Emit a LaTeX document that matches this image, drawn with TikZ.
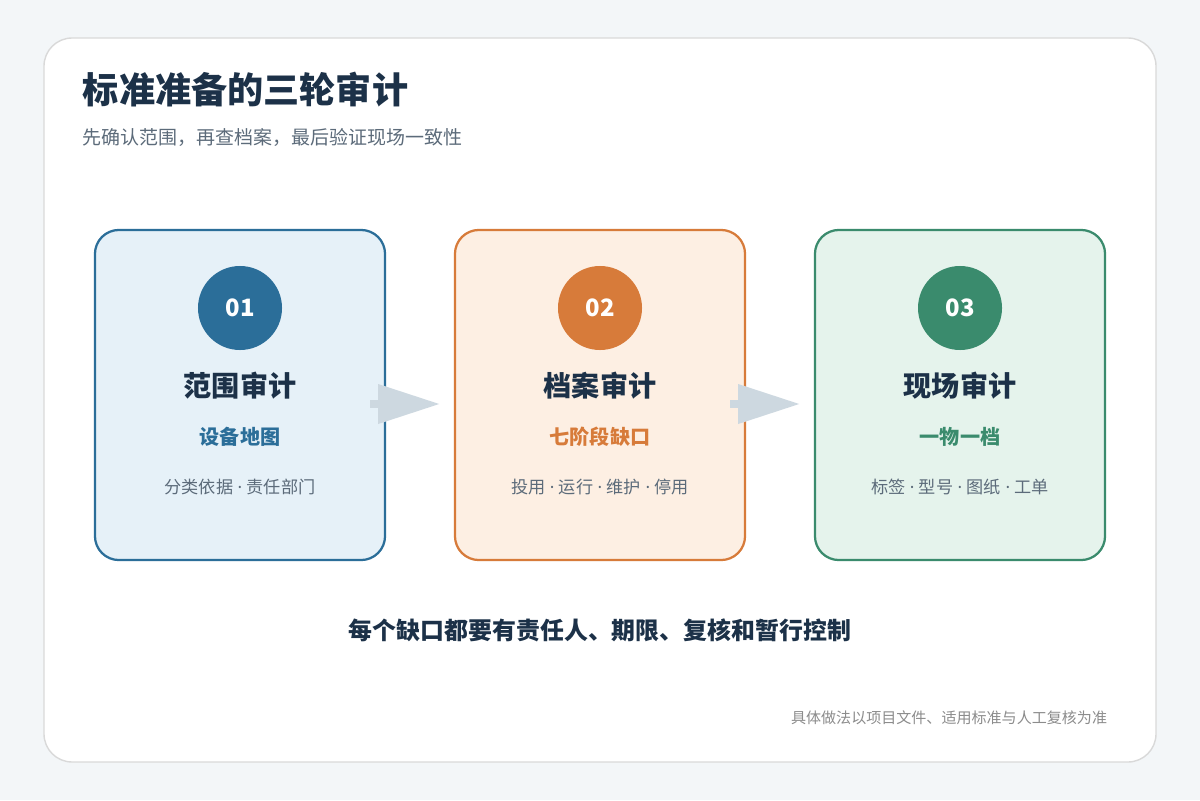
\documentclass[tikz,border=0pt]{standalone}
\usepackage{fontspec}
\setmainfont{Noto Sans CJK SC}
\newfontfamily\dotfont{Noto Sans}
\newcommand{\sep}{{\dotfont\ ·\ }}
\usetikzlibrary{positioning}
\definecolor{bgpage}{HTML}{F3F6F8}
\definecolor{ink}{HTML}{1C3148}
\definecolor{muted}{HTML}{5C6B7A}
\definecolor{blueL}{HTML}{2B6E99}\definecolor{blueF}{HTML}{E6F1F8}
\definecolor{orangeL}{HTML}{D77B3A}\definecolor{orangeF}{HTML}{FDEFE3}
\definecolor{greenL}{HTML}{3A8B6D}\definecolor{greenF}{HTML}{E5F3EC}
\definecolor{arrowc}{HTML}{CDD8E0}
\tikzset{
  stage/.style={draw=#1L,fill=#1F,line width=1.6pt,rounded corners=17pt,minimum width=7.25cm,minimum height=8.25cm},
  badge/.style={circle,fill=#1L,minimum size=2.1cm,text=white,font=\bfseries\fontsize{17}{17}\selectfont},
  stitle/.style={text=ink,font=\bfseries\fontsize{20}{20}\selectfont},
  ssub/.style={font=\bfseries\fontsize{14.3}{14}\selectfont},
  sitems/.style={text=muted,font=\fontsize{12.2}{13}\selectfont},
}
\begin{document}
\begin{tikzpicture}[x=0.025cm,y=-0.025cm]
  \fill[bgpage] (0,0) rectangle (1200,800);
  \draw[fill=white,draw=black!15,line width=1pt,rounded corners=20pt] (44,38) rectangle (1156,762);
  \node (title) [anchor=west,text=ink,font=\bfseries\fontsize{25.7}{26}\selectfont] at (78,90) {标准准备的三轮审计};
  \node (sub) [anchor=west,text=muted,font=\fontsize{13.5}{14}\selectfont] at (78,137) {先确认范围，再查档案，最后验证现场一致性};
  % stages
  \foreach \n/\x/\c/\num/\t/\s/\items in {
      1/240/blue/01/范围审计/设备地图/分类依据\sep 责任部门,
      2/600/orange/02/档案审计/七阶段缺口/投用\sep 运行\sep 维护\sep 停用,
      3/960/green/03/现场审计/一物一档/标签\sep 型号\sep 图纸\sep 工单}{
    \node (box\n) [stage=\c] at (\x,395) {};
    \node (num\n) [badge=\c] at (\x,308) {\num};
    \node (tt\n) [stitle] at (\x,386) {\t};
    \node (ss\n) [ssub,text=\c L] at (\x,437) {\s};
    \node (it\n) [sitems] at (\x,487) {\items};
  }
  % connectors
  \foreach \a/\b in {1/2,2/3}{
    \coordinate (tip\a) at ([xshift=1.325cm,yshift=-0.225cm]box\a.east);
    \fill[arrowc] ([xshift=-0.4cm,yshift=-0.125cm]box\a.east) rectangle ++(15,8);
    \fill[arrowc] ([xshift=-0.2cm,yshift=0.275cm]box\a.east) -- (tip\a) -- ([xshift=-0.2cm,yshift=-0.725cm]box\a.east) -- cycle;
  }
  \node (note) [text=ink,font=\bfseries\fontsize{17}{17}\selectfont] at (600,630) {每个缺口都要有责任人、期限、复核和暂行控制};
  \node (foot) [anchor=east,text=black!45,font=\fontsize{10.7}{11}\selectfont] at (1112,718) {具体做法以项目文件、适用标准与人工复核为准};
\end{tikzpicture}
\end{document}
